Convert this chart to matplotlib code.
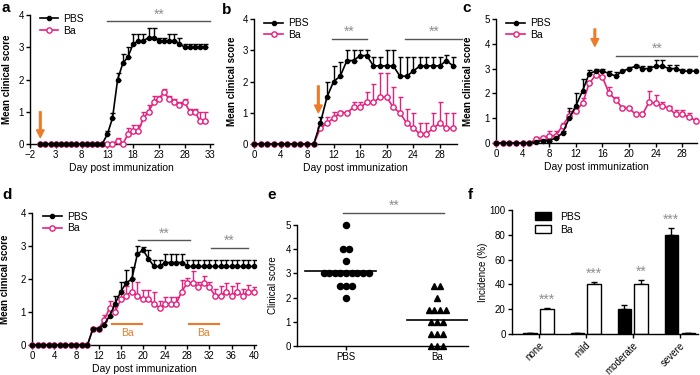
import numpy as np
import matplotlib
matplotlib.use('Agg')
import matplotlib.pyplot as plt
from matplotlib.patches import Patch

plt.rcParams['font.family'] = ['Liberation Sans', 'DejaVu Sans']
plt.rcParams['font.size'] = 7
plt.rcParams['axes.linewidth'] = 1.0

PINK = '#E6207F'
ORANGE = '#EE7B28'
STAR = '#8f8f8f'
SIGLINE = '#555555'

# ---- panel a ----
a_days = np.arange(0, 33)
a_pbs = [0, 0, 0, 0, 0, 0, 0, 0, 0, 0, 0, 0, 0,
         0.3, 0.8, 2.0, 2.5, 2.7, 3.1, 3.2, 3.2, 3.3, 3.3, 3.2, 3.2, 3.2, 3.2, 3.1, 3.0, 3.0, 3.0, 3.0, 3.0]
a_pbs_err = [0, 0, 0, 0, 0, 0, 0, 0, 0, 0, 0, 0, 0,
             0.1, 0.15, 0.2, 0.3, 0.3, 0.3, 0.2, 0.2, 0.3, 0.3, 0.1, 0.1, 0.2, 0.2, 0.2, 0.1, 0.1, 0.1, 0.1, 0.1]
a_ba = [0, 0, 0, 0, 0, 0, 0, 0, 0, 0, 0, 0, 0,
        0, 0, 0.1, 0, 0.3, 0.4, 0.4, 0.8, 1.0, 1.3, 1.4, 1.6, 1.4, 1.3, 1.2, 1.3, 1.0, 1.0, 0.7, 0.7]
a_ba_err = [0, 0, 0, 0, 0, 0, 0, 0, 0, 0, 0, 0, 0,
            0, 0, 0.1, 0, 0.2, 0.2, 0.2, 0.2, 0.2, 0.2, 0.1, 0.1, 0.1, 0.1, 0.1, 0.1, 0.1, 0.1, 0.3, 0.3]

# ---- panel b ----
b_days = np.arange(0, 31)
b_pbs = [0, 0, 0, 0, 0, 0, 0, 0, 0, 0,
         0.67, 1.5, 2.0, 2.17, 2.67, 2.67, 2.83, 2.83, 2.5, 2.5, 2.5, 2.5, 2.17, 2.17, 2.33, 2.5, 2.5, 2.5, 2.5, 2.67, 2.5]
b_pbs_err = [0, 0, 0, 0, 0, 0, 0, 0, 0, 0,
             0.2, 0.5, 0.5, 0.45, 0.33, 0.33, 0.17, 0.17, 0.3, 0.3, 0.5, 0.5, 0.63, 0.63, 0.47, 0.3, 0.3, 0.3, 0.3, 0.17, 0.3]
b_ba = [0, 0, 0, 0, 0, 0, 0, 0, 0, 0,
        0.5, 0.67, 0.83, 1.0, 1.0, 1.17, 1.17, 1.33, 1.33, 1.5, 1.5, 1.17, 1.0, 0.67, 0.5, 0.33, 0.33, 0.5, 0.67, 0.5, 0.5]
b_ba_err = [0, 0, 0, 0, 0, 0, 0, 0, 0, 0,
            0.15, 0.2, 0.2, 0.05, 0.05, 0.17, 0.17, 0.33, 0.6, 0.77, 0.77, 0.67, 0.5, 0.45, 0.5, 0.33, 0.33, 0.5, 0.67, 0.5, 0.5]

# ---- panel c ----
c_days = np.arange(0, 31)
c_pbs = [0, 0, 0, 0, 0, 0, 0.05, 0.1, 0.1, 0.2, 0.4, 1.0, 1.5, 2.1, 2.8, 2.9, 2.9, 2.8, 2.7, 2.9,
         3.0, 3.1, 3.0, 3.0, 3.1, 3.1, 3.0, 3.0, 2.9, 2.9, 2.9]
c_pbs_err = [0, 0, 0, 0, 0, 0, 0.05, 0.05, 0.05, 0.1, 0.1, 0.4, 0.5, 0.5, 0.15, 0.1, 0.1, 0.1, 0.15, 0.05,
             0.05, 0.05, 0.1, 0.1, 0.25, 0.25, 0.15, 0.15, 0.1, 0.1, 0.1]
c_ba = [0, 0, 0, 0, 0, 0, 0.15, 0.2, 0.3, 0.3, 0.7, 1.1, 1.3, 1.6, 2.4, 2.75, 2.65, 2.0, 1.75, 1.4,
        1.4, 1.15, 1.15, 1.65, 1.6, 1.5, 1.4, 1.15, 1.15, 1.05, 0.9]
c_ba_err = [0, 0, 0, 0, 0, 0, 0.1, 0.1, 0.2, 0.2, 0.1, 0.2, 0.1, 0.2, 0.05, 0.05, 0.05, 0.25, 0.1, 0.1,
            0.05, 0.05, 0.05, 0.45, 0.35, 0.15, 0.1, 0.2, 0.2, 0.15, 0.1]

# ---- panel d ----
d_days = np.arange(0, 41)
d_pbs = [0, 0, 0, 0, 0, 0, 0, 0, 0, 0, 0,
         0.5, 0.5, 0.62, 0.88, 1.25, 1.62, 1.88, 2.0, 2.75, 2.88, 2.62, 2.38, 2.38, 2.5, 2.5, 2.5, 2.5, 2.38,
         2.38, 2.38, 2.38, 2.38, 2.38, 2.38, 2.38, 2.38, 2.38, 2.38, 2.38, 2.38]
d_pbs_err = [0, 0, 0, 0, 0, 0, 0, 0, 0, 0, 0,
             0, 0, 0.1, 0.25, 0.25, 0.3, 0.4, 0.35, 0.25, 0.1, 0.25, 0.2, 0.2, 0.25, 0.25, 0.25, 0.25, 0.2,
             0.2, 0.2, 0.2, 0.2, 0.2, 0.2, 0.2, 0.2, 0.2, 0.2, 0.2, 0.2]
d_ba = [0, 0, 0, 0, 0, 0, 0, 0, 0, 0, 0,
        0.5, 0.5, 0.75, 1.12, 1.0, 1.38, 1.5, 1.62, 1.5, 1.38, 1.38, 1.25, 1.12, 1.25, 1.25, 1.25, 1.62, 1.88,
        1.88, 1.75, 1.88, 1.75, 1.5, 1.5, 1.62, 1.5, 1.62, 1.5, 1.62, 1.62]
d_ba_err = [0, 0, 0, 0, 0, 0, 0, 0, 0, 0, 0,
            0, 0, 0.15, 0.2, 0.2, 0.3, 0.3, 0.4, 0.4, 0.3, 0.3, 0.35, 0.2, 0.2, 0.2, 0.2, 0.35, 0.15,
            0.35, 0.15, 0.2, 0.15, 0.2, 0.3, 0.25, 0.3, 0.25, 0.2, 0.2, 0.15]

# ---- panel e ----
e_groups = ['PBS', 'Ba']
e_pbs = [5, 4, 4, 3.5, 3, 3, 3, 3, 3, 3, 3, 3, 3, 2.5, 2.5, 2.5, 2]
e_ba = [2.5, 2.5, 2, 1.5, 1.5, 1.5, 1.5, 1, 1, 1, 0.5, 0.5, 0.5, 0, 0, 0]

# ---- panel f ----
f_cats = ['none', 'mild', 'moderate', 'severe']
f_pbs = [1, 1, 20, 80]
f_pbs_err = [0, 0, 3, 5.5]
f_ba = [20, 40, 40, 1]
f_ba_err = [1, 2, 3.5, 0]
f_pbs_stars = ['', '', '', '***']
f_ba_stars = ['***', '***', '**', '']

fig = plt.figure(figsize=(7, 3.75), dpi=100)


def px_axes(left, top, right, bottom):
    return fig.add_axes([left / 700, 1 - bottom / 375, (right - left) / 700, (bottom - top) / 375])


def style(ax):
    for s in ['top', 'right']:
        ax.spines[s].set_visible(False)
    ax.tick_params(direction='out', length=3, width=1, labelsize=7, pad=1.5)


def sig(ax, x1, x2, y, txt='**'):
    ax.plot([x1, x2], [y, y], color=SIGLINE, lw=1, clip_on=False)
    ax.text((x1 + x2) / 2, y, txt, ha='center', va='bottom', color=STAR, fontsize=10, clip_on=False)


def arrow(ax, x, y0, y1):
    ax.annotate('', xy=(x, y1), xytext=(x, y0),
                arrowprops=dict(facecolor=ORANGE, edgecolor=ORANGE, width=1.2, headwidth=5.5, headlength=5.5))


def timecourse(ax, days, pbs, pbs_err, ba, ba_err):
    days = np.asarray(days)
    for vals, err, col in [(ba, ba_err, PINK), (pbs, pbs_err, 'black')]:
        vals = np.asarray(vals)
        err = np.asarray(err)
        m = err > 0
        ax.errorbar(days[m], vals[m], yerr=[np.zeros(m.sum()), err[m]], fmt='none',
                    ecolor=col, elinewidth=1, capsize=1.8, capthick=1, zorder=2)
    lb, = ax.plot(days, ba, color=PINK, lw=1.2, marker='o', ms=3.8, mfc='white', mec=PINK, mew=1,
                  clip_on=False, zorder=3, label='Ba')
    lp, = ax.plot(days, pbs, color='black', lw=1.2, marker='o', ms=3, clip_on=False, zorder=4, label='PBS')
    ax.legend(handles=[lp, lb], loc='upper left', bbox_to_anchor=(0.03, 1.04), frameon=False,
              fontsize=7.5, handlelength=1.8, handletextpad=0.5, labelspacing=0.15, borderaxespad=0)
    ax.set_xlabel('Day post immunization', fontsize=7.5, labelpad=2)
    ax.set_ylabel('Mean clinical score', fontsize=7, fontweight='bold')
    style(ax)


# a
ax = px_axes(30, 15, 213, 144)
timecourse(ax, a_days, a_pbs, a_pbs_err, a_ba, a_ba_err)
ax.set_xlim(-2, 33.5)
ax.set_ylim(0, 4)
ax.set_xticks([-2, 3, 8, 13, 18, 23, 28, 33])
ax.set_yticks([0, 1, 2, 3, 4])
ax.yaxis.set_label_coords(-0.1, 0.5)
sig(ax, 13, 33, 3.8)
arrow(ax, 0, 1.0, 0.2)

# b
ax = px_axes(254, 19, 457, 144)
timecourse(ax, b_days, b_pbs, b_pbs_err, b_ba, b_ba_err)
ax.set_xlim(0, 30.6)
ax.set_ylim(0, 4)
ax.set_xticks(range(0, 29, 4))
ax.set_yticks([0, 1, 2, 3, 4])
ax.yaxis.set_label_coords(-0.085, 0.5)
sig(ax, 11.7, 17.1, 3.36)
sig(ax, 22.8, 31.4, 3.36)
arrow(ax, 9.7, 1.86, 1.0)

# c
ax = px_axes(496, 19, 697, 143)
timecourse(ax, c_days, c_pbs, c_pbs_err, c_ba, c_ba_err)
ax.set_xlim(0, 30.2)
ax.set_ylim(0, 5)
ax.set_xticks(range(0, 29, 4))
ax.set_yticks([0, 1, 2, 3, 4, 5])
ax.yaxis.set_label_coords(-0.115, 0.5)
sig(ax, 18.1, 30.2, 3.52)
arrow(ax, 14.85, 4.6, 3.9)

# d
ax = px_axes(32, 213, 256, 345)
timecourse(ax, d_days, d_pbs, d_pbs_err, d_ba, d_ba_err)
ax.set_xlim(0, 40.4)
ax.set_ylim(0, 4)
ax.set_xticks(range(0, 41, 4))
ax.set_yticks([0, 1, 2, 3, 4])
ax.yaxis.set_label_coords(-0.1, 0.5)
sig(ax, 19.2, 28.5, 3.17)
sig(ax, 32.2, 38.9, 2.95)
for x1, x2 in [(14.5, 19.9), (28.3, 33.7)]:
    ax.plot([x1, x2], [0.63, 0.63], color=ORANGE, lw=1.5)
    ax.text((x1 + x2) / 2, 0.52, 'Ba', color=ORANGE, ha='center', va='top', fontsize=7.5)

# e
ax = px_axes(297, 225, 468, 346)
spacing = 0.062
for gi, (vals, mk, ext) in enumerate([(e_pbs, 'o', (-0.45, 0.33)), (e_ba, '^', (-0.33, 0.34))]):
    vals = np.asarray(vals)
    xs = np.zeros(len(vals))
    for v in np.unique(vals):
        idx = np.where(vals == v)[0]
        xs[idx] = gi + (np.arange(len(idx)) - (len(idx) - 1) / 2) * spacing
    ax.plot(xs, vals, linestyle='none', marker=mk, ms=4.4, color='black', clip_on=False, zorder=3)
    ax.plot([gi + ext[0], gi + ext[1]], [vals.mean(), vals.mean()], color='black', lw=1.2)
ax.set_xlim(-0.54, 1.34)
ax.set_ylim(0, 5)
ax.set_yticks([0, 1, 2, 3, 4, 5])
ax.set_xticks([0, 1])
ax.set_xticklabels(e_groups)
ax.set_ylabel('Clinical score', fontsize=7)
ax.yaxis.set_label_coords(-0.11, 0.5)
style(ax)
sig(ax, -0.03, 1.08, 5.5)

# f
ax = px_axes(512, 210, 698, 334)
xg = np.arange(len(f_cats))
bw = 0.28
off = 0.18
ax.bar(xg - off, f_pbs, bw, color='black', edgecolor='black', lw=1, label='PBS', zorder=2)
ax.bar(xg + off, f_ba, bw, color='white', edgecolor='black', lw=1, label='Ba', zorder=2)
ax.errorbar(xg - off, f_pbs, yerr=[np.zeros(4), f_pbs_err], fmt='none', ecolor='black',
            elinewidth=1, capsize=2.5, capthick=1, zorder=1)
ax.errorbar(xg + off, f_ba, yerr=[np.zeros(4), f_ba_err], fmt='none', ecolor='black',
            elinewidth=1, capsize=2.5, capthick=1, zorder=1)
for i in range(len(f_cats)):
    if f_pbs_stars[i]:
        ax.text(xg[i] - off, f_pbs[i] + f_pbs_err[i] + 1, f_pbs_stars[i], ha='center', va='bottom',
                color=STAR, fontsize=10)
    if f_ba_stars[i]:
        ax.text(xg[i] + off, f_ba[i] + f_ba_err[i] + 1, f_ba_stars[i], ha='center', va='bottom',
                color=STAR, fontsize=10)
ax.set_xlim(-0.564, 3.39)
ax.set_ylim(0, 100)
ax.set_yticks(range(0, 101, 20))
ax.set_xticks(xg)
ax.set_xticklabels(f_cats, rotation=45, ha='right', rotation_mode='anchor')
ax.set_ylabel('Incidence (%)', fontsize=7)
ax.yaxis.set_label_coords(-0.13, 0.5)
style(ax)
ax.legend(handles=[Patch(facecolor='black', edgecolor='black', label='PBS'),
                   Patch(facecolor='white', edgecolor='black', label='Ba')],
          loc='upper left', bbox_to_anchor=(0.1, 1.02), frameon=False, fontsize=7.5,
          handlelength=1.6, handleheight=0.8, labelspacing=0.3, borderaxespad=0)

# panel letters
for letter, x, y in [('a', 2, 1), ('b', 222, 3), ('c', 462, 1), ('d', 2, 188), ('e', 267, 188), ('f', 468, 188)]:
    fig.text(x / 700, 1 - y / 375, letter, fontsize=11, fontweight='bold', va='top', ha='left')

fig.savefig('out.png', dpi=100)
